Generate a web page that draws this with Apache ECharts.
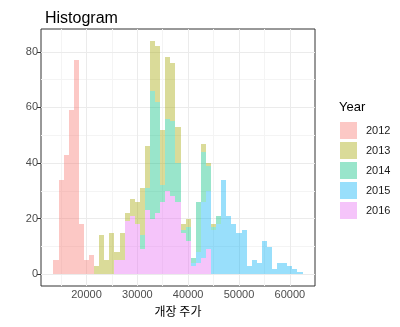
<!DOCTYPE html>
<html><head><meta charset="utf-8">
<script src="https://cdn.jsdelivr.net/npm/echarts@6/dist/echarts.min.js"></script>
<style>html,body{margin:0;padding:0;background:#fff}#c{width:400px;height:327px}</style>
</head><body><div id="c"></div>
<script>
// Bin centers (binwidth 1000)
const binCenters = [14000,15000,16000,17000,18000,19000,20000,21000,22000,23000,24000,25000,26000,27000,28000,29000,30000,31000,32000,33000,34000,35000,36000,37000,38000,39000,40000,41000,42000,43000,44000,45000,46000,47000,48000,49000,50000,51000,52000,53000,54000,55000,56000,57000,58000,59000,60000,61000,62000];
const years = ['2012','2013','2014','2015','2016'];
//                14 15 16 17 18 19 20 21 22 23 24 25 26 27 28 29 30 31 32 33 34 35 36 37 38 39 40 41 42 43 44 45 46 47 48 49 50 51 52 53 54 55 56 57 58 59 60 61 62
const counts2012 = [5,34,43,59,77,18, 5, 7, 0, 0, 0, 0, 0, 0, 0, 0, 0, 0, 0, 0, 0, 0, 0, 0, 0, 0, 0, 0, 0, 0, 0, 0, 0, 0, 0, 0, 0, 0, 0, 0, 0, 0, 0, 0, 0, 0, 0, 0, 0];
const counts2013 = [0, 0, 0, 0, 0, 0, 0, 0, 3,14, 5,15, 3,10, 3, 6, 8,17,15,18,20,20,22,21,13, 2, 3, 0, 0, 3, 1, 1, 0, 0, 0, 0, 0, 0, 0, 0, 0, 0, 0, 0, 0, 0, 0, 0, 0];
const counts2014 = [0, 0, 0, 0, 0, 0, 0, 0, 0, 0, 0, 0, 0, 0, 0, 0, 0, 5, 8,46,40, 6,26,27,14, 1, 5, 2,18,18, 9, 1, 3, 0, 0, 0, 0, 0, 0, 0, 0, 0, 0, 0, 0, 0, 0, 0, 0];
const counts2015 = [0, 0, 0, 0, 0, 0, 0, 0, 0, 0, 0, 0, 0, 0, 0, 0, 0, 0, 0, 0, 0, 0, 0, 0, 0, 0, 0, 1, 4,20,21,16,18,34,21,18,15,16, 3, 5, 4,12,10, 2, 4, 4, 3, 2, 1];
const counts2016 = [0, 0, 0, 0, 0, 0, 0, 0, 0, 0, 0, 0, 5, 5,19,21,18, 9,23,20,22,26,30,28,26,15,12, 3, 4, 6, 9, 0, 0, 0, 0, 0, 0, 0, 0, 0, 0, 0, 0, 0, 0, 0, 0, 0, 0];
const binWidth = 1000;
const xTicks = [20000,30000,40000,50000,60000];
const xMinor = [15000,25000,35000,45000,55000];
const yTicks = [0,20,40,60,80];
const yMinor = [10,30,50,70];

const colors = {
  '2012':'rgba(248,118,109,0.4)',
  '2013':'rgba(163,165,0,0.4)',
  '2014':'rgba(0,191,125,0.4)',
  '2015':'rgba(0,176,246,0.4)',
  '2016':'rgba(231,107,243,0.4)'
};
const countsByYear = {'2012':counts2012,'2013':counts2013,'2014':counts2014,'2015':counts2015,'2016':counts2016};
// ggplot stack order: last level at bottom
const stackOrder = ['2016','2015','2014','2013','2012'];
const base = binCenters.map(()=>0);
const stacked = {};
stackOrder.forEach(y=>{
  const arr = countsByYear[y];
  stacked[y] = [];
  binCenters.forEach((c,i)=>{
    if(arr[i]>0){
      stacked[y].push([c-binWidth/2, c+binWidth/2, base[i], base[i]+arr[i]]);
      base[i]+=arr[i];
    }
  });
});

function renderItem(params, api){
  const p0 = api.coord([api.value(0), api.value(3)]);
  const p1 = api.coord([api.value(1), api.value(2)]);
  const x0 = Math.round(p0[0]), x1 = Math.round(p1[0]);
  const y0 = Math.round(p0[1]), y1 = Math.round(p1[1]);
  return {type:'rect', shape:{x:x0, y:y0, width:x1-x0, height:y1-y0}, style:{fill: api.visual('color')}};
}

const font = 'Liberation Sans, Arial, sans-serif';
const series = years.map(y=>({
  name:y, type:'custom', renderItem, data: stacked[y],
  encode:{x:[0,1], y:[2,3]}, itemStyle:{color:colors[y]}, z:3, silent:true
}));
const gl = (arr, axis, color)=>arr.map(v=>({[axis]:v, lineStyle:{color}}));
series.push({
  type:'line', data:[], silent:true, z:1,
  markLine:{silent:true, symbol:['none','none'], label:{show:false}, animation:false, z:1,
    lineStyle:{color:'#EBEBEB', width:1, type:'solid'},
    data:[].concat(gl(xMinor,'xAxis','#F4F4F4'), gl(yMinor,'yAxis','#F4F4F4'), gl(xTicks,'xAxis','#EBEBEB'), gl(yTicks,'yAxis','#EBEBEB'))}
});

const chart = echarts.init(document.getElementById('c'), null, {renderer:'canvas'});
chart.setOption({
  animation:false,
  backgroundColor:'#fff',
  title:[
    {text:'Histogram', left:40, top:6, textStyle:{fontFamily:font, fontSize:16, fontWeight:'normal', color:'#000'}},
    {text:'Year', left:334, top:96, textStyle:{fontFamily:font, fontSize:13, fontWeight:'normal', color:'#000'}}
  ],
  legend:{data:years, orient:'vertical', left:335, top:117, itemWidth:17, itemHeight:17, itemGap:3, icon:'rect',
    textStyle:{fontFamily:font, fontSize:11, color:'#1a1a1a', padding:[0,0,0,4]}, selectedMode:false},
  grid:{left:41, top:29, width:274, height:257, show:true, borderColor:'#333', borderWidth:1, backgroundColor:'#fff'},
  xAxis:{type:'value', min:11050, max:64950, axisLine:{show:false}, splitLine:{show:false},
    axisTick:{show:true, length:4, lineStyle:{color:'#333'}, customValues:xTicks},
    axisLabel:{customValues:xTicks, formatter:v=>String(v), color:'#4D4D4D', fontFamily:font, fontSize:11, margin:3},
    name:'개장 주가', nameLocation:'middle', nameGap:19,
    nameTextStyle:{fontFamily:'Noto Sans CJK KR', fontSize:12, color:'#000'}},
  yAxis:{type:'value', min:-4.2, max:88.2, axisLine:{show:false}, splitLine:{show:false},
    axisTick:{show:true, length:4, lineStyle:{color:'#333'}, customValues:yTicks},
    axisLabel:{customValues:yTicks, formatter:v=>String(v), color:'#4D4D4D', fontFamily:font, fontSize:11, margin:3}},
  series
});
</script></body></html>
